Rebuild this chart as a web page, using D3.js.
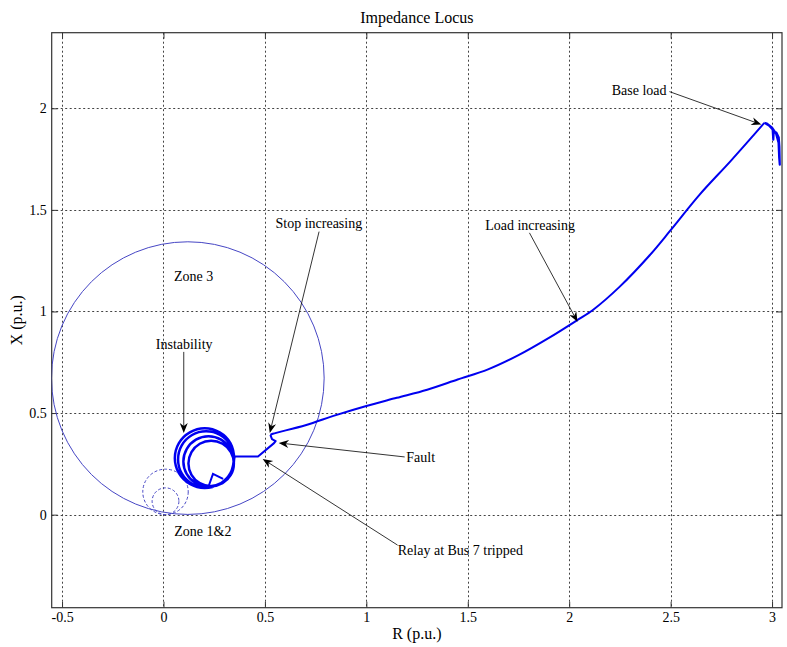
<!DOCTYPE html>
<html><head><meta charset="utf-8">
<script src="https://cdn.jsdelivr.net/npm/d3@7"></script>
<style>
body{margin:0;background:#fff}
svg{display:block}
text{font-family:"Liberation Serif","Times New Roman",serif;fill:#000}
</style>
</head><body>
<svg id="chart" width="787" height="647"></svg>
<script>
// ---------------- data ----------------
const chartTitle = "Impedance Locus";
const xLabel = "R (p.u.)";
const yLabel = "X (p.u.)";
const xDomain = [-0.551, 3.049];
const yDomain = [-0.458, 2.372];
const xTicks = [-0.5, 0, 0.5, 1, 1.5, 2, 2.5, 3];
const xTickLabels = ["-0.5", "0", "0.5", "1", "1.5", "2", "2.5", "3"];
const yTicks = [0, 0.5, 1, 1.5, 2];
const yTickLabels = ["0", "0.5", "1", "1.5", "2"];

// relay zones: [centerR, centerX, radius]
const zone3 = [0.12, 0.672, 0.672];
const zone12 = [[0.01, 0.112, 0.112], [0.01, 0.066, 0.066]];

// locus: base load transient
const locusBase = [[2.962,1.928],[2.985,1.915],[3.003,1.895],[3.006,1.846],[3.008,1.885],[3.021,1.881],
  [3.033,1.856],[3.036,1.811],[3.038,1.722],[3.035,1.76],[3.032,1.83],[3.02,1.875],[3.0,1.905],[2.975,1.925],[2.962,1.928]];
// locus: load increasing
const locusLoad = [[2.962,1.928],[2.80,1.745],[2.642,1.574],[2.50,1.40],[2.398,1.278],[2.248,1.121],[2.12,1.01],
  [2.036,0.955],[1.90,0.87],[1.75,0.785],[1.60,0.715],[1.45,0.665],[1.30,0.615],[1.15,0.575],[1.00,0.535],
  [0.85,0.49],[0.70,0.44],[0.539,0.398],[0.527,0.393]];
// locus: fault and relay trip
const locusFault = [[0.527,0.393],[0.535,0.372],[0.553,0.362],[0.545,0.352],[0.466,0.286],[0.351,0.286]];
// locus: instability (spiral loops)
const locusSpiral = [
  [0.350,0.286],[0.330,0.204],[0.277,0.151],[0.203,0.131],[0.130,0.151],[0.076,0.204],[0.056,0.278],[0.076,0.352],[0.130,0.405],[0.203,0.425],[0.277,0.405],[0.330,0.352],
  [0.348,0.272],[0.330,0.203],[0.279,0.152],[0.210,0.134],[0.141,0.152],[0.090,0.203],[0.072,0.272],[0.090,0.341],[0.141,0.392],[0.210,0.410],[0.279,0.392],[0.330,0.341],
  [0.346,0.262],[0.329,0.200],[0.284,0.155],[0.222,0.138],[0.160,0.155],[0.115,0.200],[0.098,0.262],[0.115,0.324],[0.160,0.369],[0.222,0.386],[0.284,0.369],[0.329,0.324],
  [0.347,0.252],[0.332,0.196],[0.291,0.155],[0.235,0.140],[0.179,0.155],[0.138,0.196],[0.123,0.252],[0.138,0.308],[0.179,0.349],[0.235,0.364],[0.291,0.349],[0.332,0.308],
  [0.347,0.252],[0.332,0.196],[0.300,0.168]];
const locusTriangle = [[0.219,0.130],[0.244,0.201],[0.294,0.176]];

// annotations: text, text position [R,X], anchor, arrow start, arrow tip
const annotations = [
  {text:"Base load", pos:[2.48,2.067], anchor:"end", from:[2.494,2.082], to:[2.947,1.920]},
  {text:"Stop increasing", pos:[0.766,1.412], anchor:"middle", from:[0.767,1.393], to:[0.524,0.402]},
  {text:"Load increasing", pos:[1.807,1.401], anchor:"middle", from:[1.804,1.387], to:[2.041,0.949]},
  {text:"Zone 3", pos:[0.149,1.148], anchor:"middle"},
  {text:"Instability", pos:[0.102,0.816], anchor:"middle", from:[0.100,0.801], to:[0.100,0.402]},
  {text:"Fault", pos:[1.197,0.261], anchor:"start", from:[1.189,0.284], to:[0.568,0.353]},
  {text:"Relay at Bus 7 tripped", pos:[1.155,-0.198], anchor:"start", from:[1.154,-0.150], to:[0.489,0.274]},
  {text:"Zone 1&2", pos:[0.194,-0.104], anchor:"middle"}
];

// ---------------- drawing ----------------
const svg = d3.select("#chart");
const L = 51.7, R = 782, T = 32.7, B = 607.7;
const x = d3.scaleLinear().domain(xDomain).range([L, R]);
const y = d3.scaleLinear().domain(yDomain).range([B, T]);

svg.append("defs").append("clipPath").attr("id","clip")
  .append("rect").attr("x",L).attr("y",T).attr("width",R-L).attr("height",B-T);

// grid
const grid = svg.append("g").attr("stroke","#444").attr("stroke-width",1).attr("stroke-dasharray","2,2.5");
grid.selectAll(".gx").data(xTicks).join("line")
  .attr("x1",d=>Math.round(x(d))+0.5).attr("x2",d=>Math.round(x(d))+0.5).attr("y1",T).attr("y2",B);
grid.selectAll(".gy").data(yTicks).join("line")
  .attr("y1",d=>Math.round(y(d))+0.5).attr("y2",d=>Math.round(y(d))+0.5).attr("x1",L).attr("x2",R);

// axes (inward ticks)
const fs = "14px";
const ax = svg.append("g").attr("transform",`translate(0,${B})`)
  .call(d3.axisBottom(x).tickValues(xTicks).tickFormat((d,i)=>xTickLabels[i]).tickSizeInner(-6).tickSizeOuter(0).tickPadding(4));
const axT = svg.append("g").attr("transform",`translate(0,${T})`)
  .call(d3.axisTop(x).tickValues(xTicks).tickFormat("").tickSizeInner(-6).tickSizeOuter(0));
const ay = svg.append("g").attr("transform",`translate(${L},0)`)
  .call(d3.axisLeft(y).tickValues(yTicks).tickFormat((d,i)=>yTickLabels[i]).tickSizeInner(-6).tickSizeOuter(0).tickPadding(5));
const ayR = svg.append("g").attr("transform",`translate(${R},0)`)
  .call(d3.axisRight(y).tickValues(yTicks).tickFormat("").tickSizeInner(-6).tickSizeOuter(0));
[ax,axT,ay,ayR].forEach(g=>{
  g.select(".domain").remove();
  g.selectAll(".tick line").attr("stroke","#333");
  g.selectAll("text").attr("font-family","Liberation Serif, Times New Roman, serif").attr("font-size",fs).attr("fill","#000");
});

// frame
svg.append("rect").attr("x",L).attr("y",T).attr("width",R-L).attr("height",B-T)
  .attr("fill","none").attr("stroke","#333").attr("stroke-width",1.2);

const plot = svg.append("g").attr("clip-path","url(#clip)");
const zoneColor = "#4646c4";
// zone 3 circle
plot.append("circle").attr("cx",x(zone3[0])).attr("cy",y(zone3[1]))
  .attr("r",x(zone3[2])-x(0)).attr("fill","none").attr("stroke",zoneColor).attr("stroke-width",1);
// zone 1&2 dashed circles
plot.selectAll(".z12").data(zone12).join("circle")
  .attr("cx",d=>x(d[0])).attr("cy",d=>y(d[1])).attr("r",d=>x(d[2])-x(0))
  .attr("fill","none").attr("stroke",zoneColor).attr("stroke-width",1).attr("stroke-dasharray","3,2");

// locus lines
const lineLin = d3.line().x(d=>x(d[0])).y(d=>y(d[1]));
const lineSmooth = d3.line().x(d=>x(d[0])).y(d=>y(d[1])).curve(d3.curveCatmullRom.alpha(0.5));
const blue = "#0000f0";
plot.append("path").datum(locusBase).attr("d",lineLin).attr("fill","none").attr("stroke",blue).attr("stroke-width",2.2).attr("stroke-linejoin","round");
plot.append("path").datum(locusLoad).attr("d",lineSmooth).attr("fill","none").attr("stroke",blue).attr("stroke-width",2);
plot.append("path").datum(locusFault).attr("d",lineLin).attr("fill","none").attr("stroke",blue).attr("stroke-width",2).attr("stroke-linejoin","round");
plot.append("path").datum(locusSpiral).attr("d",lineSmooth).attr("fill","none").attr("stroke",blue).attr("stroke-width",2.5);
plot.append("path").datum(locusTriangle).attr("d",lineLin).attr("fill","none").attr("stroke",blue).attr("stroke-width",2);

// annotations
const ann = svg.append("g");
function arrow(x1,y1,x2,y2){
  const a = Math.atan2(y2-y1,x2-x1);
  const hl = 10, hw = 4, notch = 7;
  const ca = Math.cos(a), sa = Math.sin(a);
  const bx = x2 - hl*ca, by = y2 - hl*sa;
  const nx = x2 - notch*ca, ny = y2 - notch*sa;
  ann.append("line").attr("x1",x1).attr("y1",y1).attr("x2",nx).attr("y2",ny)
    .attr("stroke","#000").attr("stroke-width",0.8);
  ann.append("path").attr("d",`M${x2},${y2}L${bx - hw*sa},${by + hw*ca}L${nx},${ny}L${bx + hw*sa},${by - hw*ca}Z`)
    .attr("fill","#000");
}
annotations.forEach(d=>{
  ann.append("text").attr("x",x(d.pos[0])).attr("y",y(d.pos[1])).attr("text-anchor",d.anchor)
    .attr("font-size","14px").text(d.text);
  if(d.from) arrow(x(d.from[0]),y(d.from[1]),x(d.to[0]),y(d.to[1]));
});

// title & labels
svg.append("text").attr("x",(L+R)/2).attr("y",23).attr("text-anchor","middle").attr("font-size","16px").text(chartTitle);
svg.append("text").attr("x",(L+R)/2).attr("y",639).attr("text-anchor","middle").attr("font-size","16px").text(xLabel);
svg.append("text").attr("transform",`translate(22,${(T+B)/2}) rotate(-90)`).attr("text-anchor","middle").attr("font-size","16px").text(yLabel);
</script>
</body></html>
